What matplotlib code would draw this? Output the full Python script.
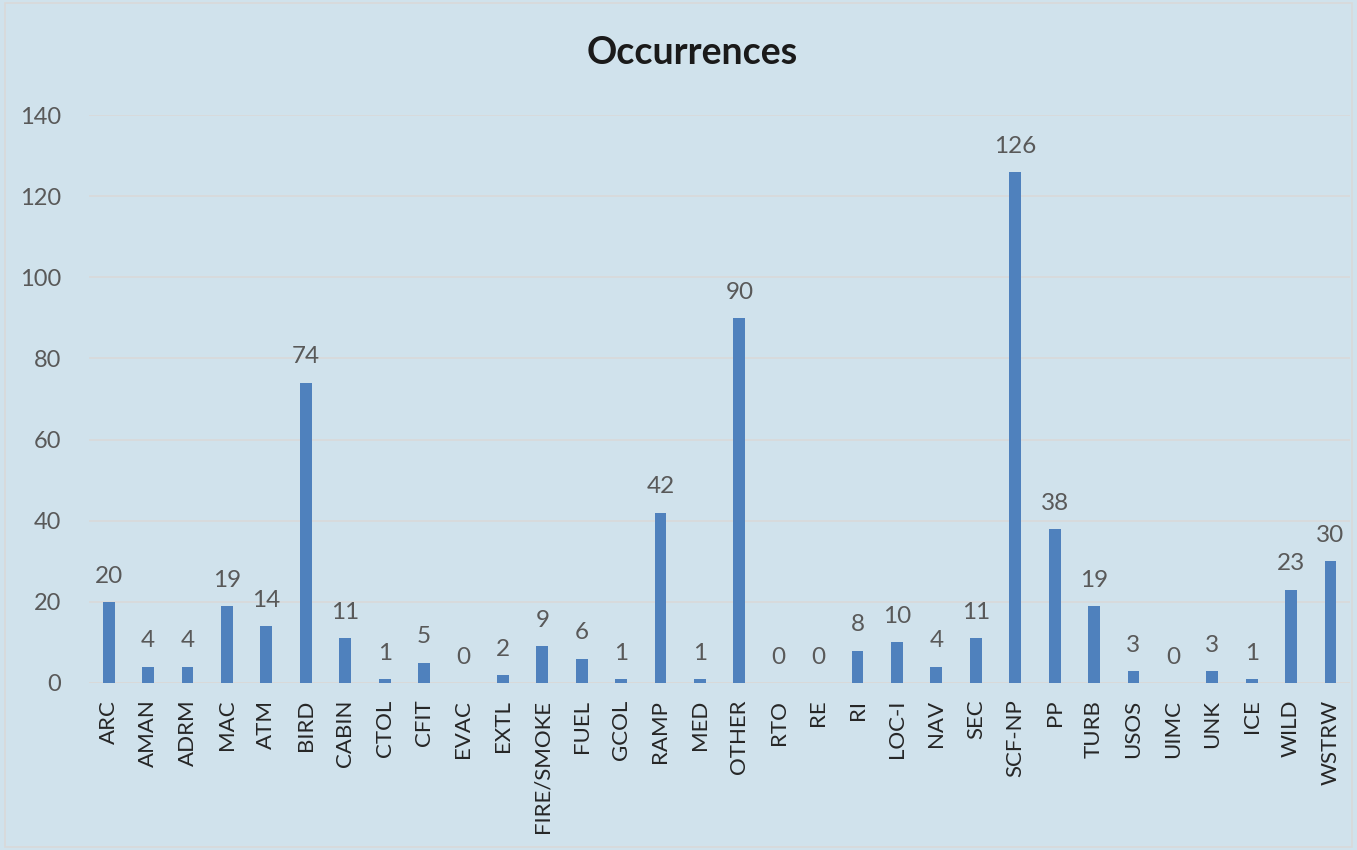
import matplotlib.pyplot as plt
from matplotlib.patches import Rectangle

categories = ["ARC", "AMAN", "ADRM", "MAC", "ATM", "BIRD", "CABIN", "CTOL", "CFIT",
              "EVAC", "EXTL", "FIRE/SMOKE", "FUEL", "GCOL", "RAMP", "MED", "OTHER",
              "RTO", "RE", "RI", "LOC-I", "NAV", "SEC", "SCF-NP", "PP", "TURB",
              "USOS", "UIMC", "UNK", "ICE", "WILD", "WSTRW"]
occurrences = [20, 4, 4, 19, 14, 74, 11, 1, 5, 0, 2, 9, 6, 1, 42, 1, 90,
               0, 0, 8, 10, 4, 11, 126, 38, 19, 3, 0, 3, 1, 23, 30]
yticks = [0, 20, 40, 60, 80, 100, 120, 140]

bg = "#D0E2EC"
bar_color = "#4F81BD"
grid_color = "#D9D9D9"
label_gray = "#595959"

plt.rcParams['font.family'] = ['Lato', 'DejaVu Sans']

fig = plt.figure(figsize=(13.57, 8.5), dpi=100, facecolor=bg)
ax = fig.add_axes([0.0656, 0.1965, 0.9294, 0.6682])
ax.set_facecolor(bg)

x = list(range(len(categories)))
ax.bar(x, occurrences, width=0.3, color=bar_color, zorder=3)

for xi, v in zip(x, occurrences):
    ax.annotate(str(v), (xi, v), xytext=(0, 11), textcoords="offset points",
                ha="center", va="bottom", fontsize=17.5, color=label_gray)

ax.set_xlim(-0.5, len(categories) - 0.5)
ax.set_ylim(0, 140)
ax.set_yticks(yticks)
ax.set_xticks(x)
ax.set_xticklabels(categories, rotation=90, fontsize=16, color="#262626")
ax.tick_params(axis="y", labelsize=17, labelcolor=label_gray, length=0, pad=20)
ax.tick_params(axis="x", length=0, pad=12)
ax.grid(axis="y", color=grid_color, linewidth=1.2, zorder=0)
for s in ax.spines.values():
    s.set_visible(False)
ax.axhline(0, color=grid_color, linewidth=1.2, zorder=2)

fig.text(0.51, 0.938, "Occurrences", ha="center", va="center", fontsize=27,
         fontweight="bold", color="#1a1a1a")

# light frame around the whole chart area
fig.patches.append(Rectangle((0.004, 0.004), 0.992, 0.992, transform=fig.transFigure,
                             fill=False, edgecolor=grid_color, linewidth=1.2))

fig.savefig("out.png", dpi=100, facecolor=bg)
